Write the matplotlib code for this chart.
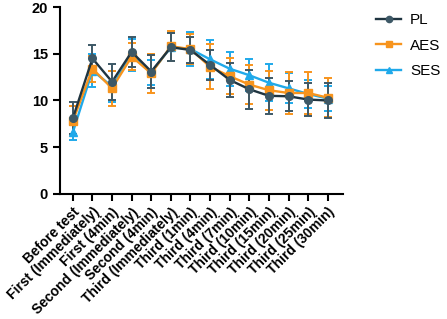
import matplotlib.pyplot as plt
from matplotlib.lines import Line2D
import numpy as np

plt.rcParams['font.family'] = ['Liberation Sans', 'DejaVu Sans']

labels = ['Before test', 'First (Immediately)', 'First (4min)', 'Second (Immediately)',
          'Second (4min)', 'Third (Immediately)', 'Third (1min)', 'Third (4min)',
          'Third (7min)', 'Third (10min)', 'Third (15min)', 'Third (20min)',
          'Third (25min)', 'Third (30min)']

pl_mean = [8.1, 14.5, 12.0, 15.2, 13.1, 15.7, 15.4, 13.8, 12.2, 11.2, 10.5, 10.45, 10.1, 10.0]
pl_sd = [1.7, 1.4, 1.9, 1.6, 1.8, 1.5, 1.4, 1.6, 1.8, 2.1, 1.9, 1.6, 1.8, 1.9]
aes_mean = [7.8, 13.4, 11.3, 14.7, 12.9, 15.8, 15.5, 13.6, 12.6, 11.7, 11.1, 10.8, 10.8, 10.3]
aes_sd = [1.6, 1.4, 1.9, 1.4, 2.1, 1.6, 1.6, 2.4, 1.9, 2.1, 2.1, 2.2, 2.25, 2.1]
ses_mean = [6.6, 13.2, 11.5, 14.9, 13.0, 15.7, 15.5, 14.4, 13.4, 12.7, 11.9, 11.3, 10.7, 10.2]
ses_sd = [0.8, 1.8, 1.7, 1.7, 1.3, 1.5, 1.8, 2.1, 1.8, 1.7, 2.0, 1.6, 1.5, 1.3]

x = np.arange(len(labels))

fig = plt.figure(figsize=(4.47, 3.19), dpi=100)
ax = fig.add_axes([0.134, 0.392, 0.633, 0.586])

series = [
    ('SES', ses_mean, ses_sd, '#1fa9ea', '#1fa9ea', '^'),
    ('AES', aes_mean, aes_sd, '#f7941d', '#f7941d', 's'),
    ('PL', pl_mean, pl_sd, '#1f3440', '#3d5866', 'o'),
]
handles = {}
for name, m, s, lc, ec, mk in series:
    ax.errorbar(x, m, yerr=s, color=lc, ecolor=ec, marker=mk, markersize=5.5,
                markerfacecolor=ec, markeredgecolor=ec, linewidth=1.7,
                elinewidth=1.4, capsize=3, capthick=1.4)
    handles[name] = Line2D([], [], color=lc, marker=mk, markersize=4.5,
                           markerfacecolor=ec, markeredgecolor=ec, linewidth=1.7)

ax.set_xlim(-0.66, 13.77)
ax.set_ylim(0, 20)
ax.set_yticks([0, 5, 10, 15, 20])
ax.set_xticks(x)
ax.set_xticklabels(labels, rotation=45, ha='right', rotation_mode='anchor')

for sp in ['top', 'right']:
    ax.spines[sp].set_visible(False)
for sp in ['left', 'bottom']:
    ax.spines[sp].set_linewidth(1.5)
ax.tick_params(width=1.5, length=5)
ax.tick_params(axis='y', labelsize=10.5)
ax.tick_params(axis='x', labelsize=10, pad=3)
for t in ax.get_xticklabels() + ax.get_yticklabels():
    t.set_fontweight('bold')

ax.legend([handles['PL'], handles['AES'], handles['SES']], ['PL', 'AES', 'SES'],
          loc='upper left', bbox_to_anchor=(1.07, 1.04), frameon=False,
          fontsize=11, handlelength=1.6, handletextpad=0.6, labelspacing=0.75)

fig.savefig('out.png', dpi=100)
